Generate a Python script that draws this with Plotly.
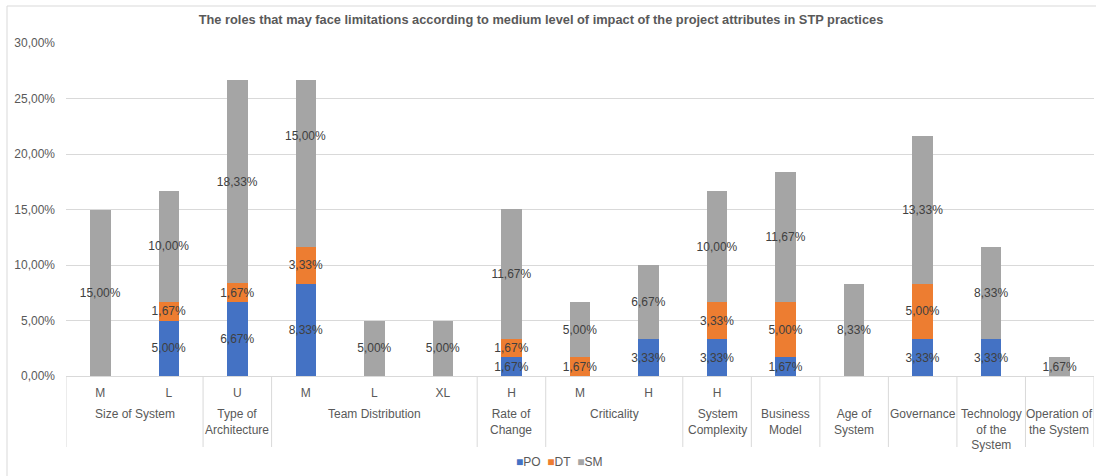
import plotly.graph_objects as go

# Project attributes (group) and their levels (sub-category), one entry per bar
groups = [
    "Size of System", "Size of System",
    "Type of<br>Architecture",
    "Team Distribution", "Team Distribution", "Team Distribution",
    "Rate of<br>Change",
    "Criticality", "Criticality",
    "System<br>Complexity",
    "Business<br>Model",
    "Age of<br>System",
    "Governance",
    "Technology<br>of the<br>System",
    "Operation of<br>the System",
]
levels = ["M", "L", "U", "M", "L", "XL", "H", "M", "H", "H", "", "", "", "", ""]

# Share of respondents per role (%)
po = [0, 5.00, 6.67, 8.33, 0, 0, 1.67, 0, 3.33, 3.33, 1.67, 0, 3.33, 3.33, 0]
dt = [0, 1.67, 1.67, 3.33, 0, 0, 1.67, 1.67, 0, 3.33, 5.00, 0, 5.00, 0, 0]
sm = [15.00, 10.00, 18.33, 15.00, 5.00, 5.00, 11.67, 5.00, 6.67, 10.00, 11.67, 8.33, 13.33, 8.33, 1.67]

series = [("PO", po, "#4472C4"), ("DT", dt, "#ED7D31"), ("SM", sm, "#A5A5A5")]

LABEL_COLOR = "#404040"
AXIS_COLOR = "#595959"
GRID_COLOR = "#D9D9D9"

# Pixel geometry of the plot area
W, H = 1096, 476
L_PX, R_PX, T_PX, B_PX = 66, 1094, 43, 376
PW, PH = R_PX - L_PX, B_PX - T_PX


def px_x(px):
    return (px - L_PX) / PW


def px_y(py):
    return (B_PX - py) / PH


def fmt(v):
    return "" if v == 0 else f"{v:.2f}".replace(".", ",") + "%"


idx = list(range(len(levels)))

# SM label of the Team Distribution / M bar sits higher up in its segment
moved = {3: 0.216}

fig = go.Figure()
for name, vals, color in series:
    texts = [fmt(v) for v in vals]
    if name == "SM":
        for i in moved:
            texts[i] = ""
    fig.add_trace(go.Bar(
        name=name,
        x=idx,
        y=[v / 100 for v in vals],
        marker=dict(color=color, line=dict(width=0)),
        text=texts,
        textposition="inside",
        insidetextanchor="middle",
        textangle=0,
        constraintext="none",
        textfont=dict(family="Liberation Sans, Arial", size=12, color=LABEL_COLOR),
        insidetextfont=dict(family="Liberation Sans, Arial", size=12, color=LABEL_COLOR),
        hoverinfo="skip",
        showlegend=False,
    ))

annotations = []
for i, ypos in moved.items():
    annotations.append(dict(
        text=fmt(sm[i]), x=i, y=ypos, xref="x", yref="y", showarrow=False,
        xanchor="center", yanchor="middle",
        font=dict(size=12, color=LABEL_COLOR),
    ))

# Group labels under the level row, and dividers between groups
shapes = []
spans = []
for i, g in enumerate(groups):
    if spans and spans[-1][0] == g:
        spans[-1][2] = i
    else:
        spans.append([g, i, i])

div_bottom = px_y(447)
for g, a, b in spans:
    annotations.append(dict(
        text=g, x=(a + b) / 2, y=px_y(405), xref="x", yref="paper",
        showarrow=False, xanchor="center", yanchor="top",
        font=dict(size=12, color=AXIS_COLOR),
    ))
    for edge in ([a - 0.5] if a == 0 else []) + [b + 0.5]:
        shapes.append(dict(type="line", xref="x", yref="paper",
                           x0=edge, x1=edge, y0=0, y1=div_bottom,
                           line=dict(color=GRID_COLOR, width=1)))

# Compact legend: coloured squares followed by the series names
legend_text = "&nbsp;&nbsp;".join(
    f"<span style='color:{color}'>■</span>{name}" for name, _, color in series
)
annotations.append(dict(
    text=legend_text, showarrow=False, xref="paper", yref="paper",
    x=px_x(559), y=px_y(462), xanchor="center", yanchor="middle",
    font=dict(size=12, color=AXIS_COLOR),
))

# Chart-area frame (left and top edges)
shapes += [
    dict(type="line", xref="paper", yref="paper",
         x0=px_x(7), x1=px_x(7), y0=px_y(6), y1=px_y(H),
         line=dict(color=GRID_COLOR, width=1)),
    dict(type="line", xref="paper", yref="paper",
         x0=px_x(7), x1=px_x(W), y0=px_y(6), y1=px_y(6),
         line=dict(color=GRID_COLOR, width=1)),
]

fig.update_layout(
    barmode="stack",
    bargap=0.7,
    width=W,
    height=H,
    separators=",.",
    paper_bgcolor="white",
    plot_bgcolor="white",
    margin=dict(l=L_PX, r=W - R_PX, t=T_PX, b=H - B_PX),
    font=dict(family="Liberation Sans, Arial", size=12, color=AXIS_COLOR),
    title=dict(
        text="<b>The roles that may face limitations according to medium level of impact of the project attributes in STP practices</b>",
        x=541 / W, xref="container", xanchor="center",
        y=1 - 20 / H, yref="container", yanchor="middle",
        font=dict(size=12.8, color=AXIS_COLOR),
    ),
    annotations=annotations,
    shapes=shapes,
    yaxis=dict(
        range=[0, 0.30],
        tickvals=[0, 0.05, 0.10, 0.15, 0.20, 0.25, 0.30],
        tickformat=".2%",
        gridcolor=GRID_COLOR,
        gridwidth=1,
        zeroline=False,
        showline=False,
        ticks="",
        ticklabelstandoff=10,
        tickfont=dict(size=12, color=AXIS_COLOR),
    ),
    xaxis=dict(
        range=[-0.5, len(levels) - 0.5],
        tickvals=idx,
        ticktext=levels,
        showgrid=False,
        zeroline=False,
        showline=True,
        linecolor=GRID_COLOR,
        linewidth=1,
        ticks="",
        ticklabelstandoff=6,
        tickfont=dict(size=12, color=AXIS_COLOR),
    ),
)

fig.write_html("out.html")
